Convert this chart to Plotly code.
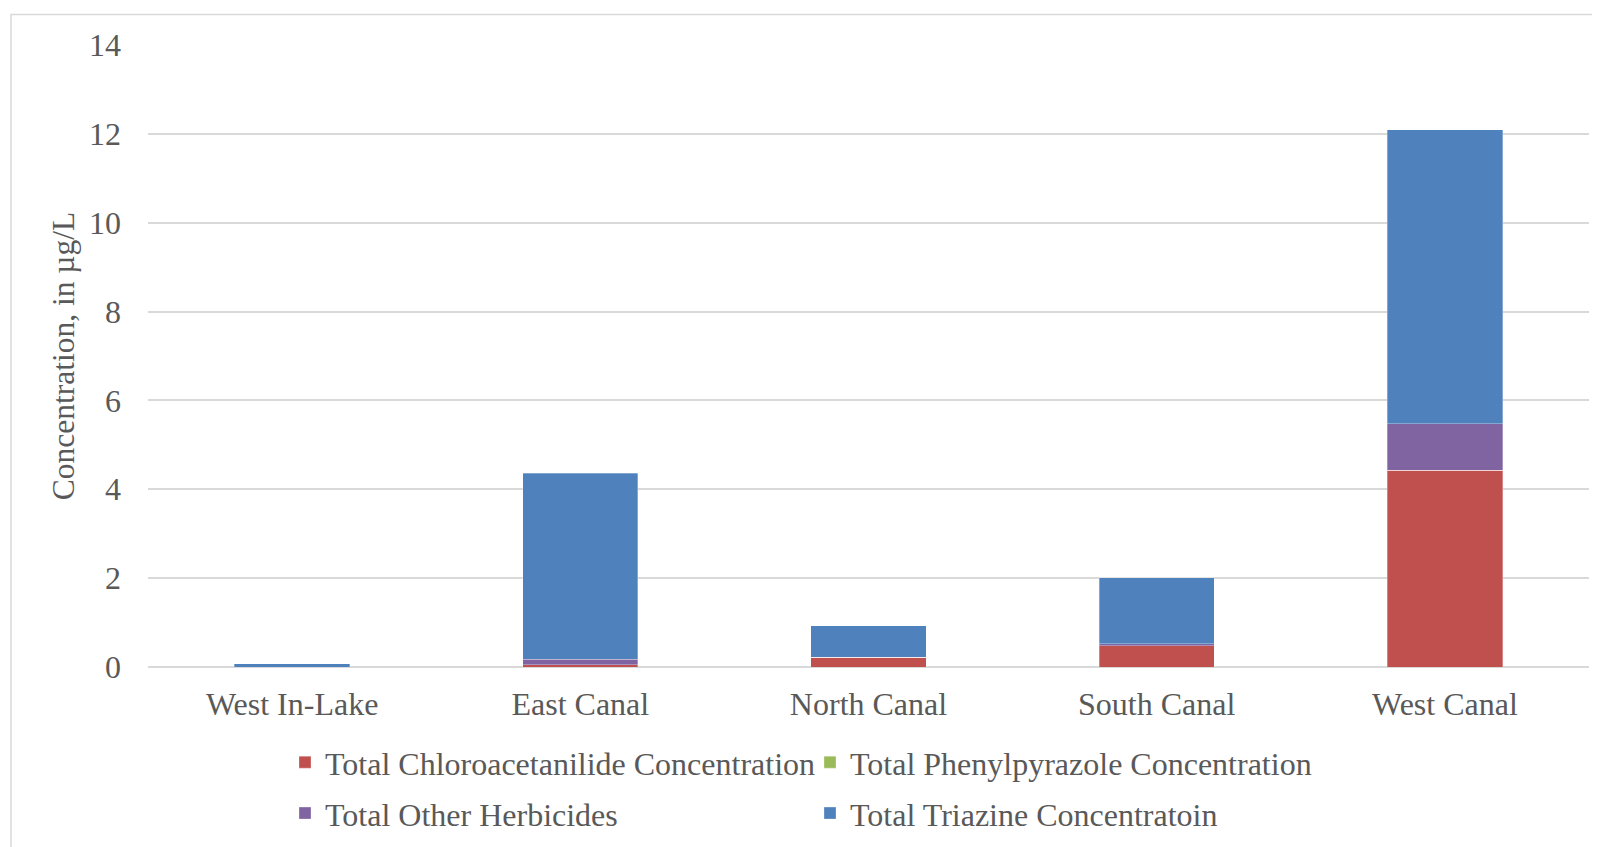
import plotly.graph_objects as go

sites = ["West In-Lake", "East Canal", "North Canal", "South Canal", "West Canal"]
chloroacetanilide = [0.0, 0.05, 0.22, 0.48, 4.43]
phenylpyrazole = [0.0, 0.0, 0.0, 0.0, 0.0]
other_herbicides = [0.0, 0.13, 0.0, 0.04, 1.04]
triazine = [0.07, 4.18, 0.71, 1.49, 6.62]
y_ticks = [0, 2, 4, 6, 8, 10, 12, 14]

names = ["Total Chloroacetanilide Concentration", "Total Phenylpyrazole Concentration",
         "Total Other Herbicides", "Total Triazine Concentratoin"]
colors = ["#C0504D", "#9BBB59", "#8064A2", "#4F81BD"]
series = [chloroacetanilide, phenylpyrazole, other_herbicides, triazine]
legends = ["legend", "legend", "legend2", "legend2"]

OFF = 8  # page body margin
W, H = 1600 - OFF, 847 - OFF
L, R, T, B = 148 - OFF, 11, 44.5 - OFF, 179.5
pw, ph = W - L - R, H - T - B

def px_x(x):
    return (x - OFF - L) / pw

def px_y(y):
    return (H - B - (y - OFF)) / ph

FONT = "Liberation Serif, Times New Roman, serif"
GREY = "#595959"

fig = go.Figure()
for n, c, s, lg in zip(names, colors, series, legends):
    fig.add_trace(go.Bar(x=sites, y=s, name=n, legend=lg,
                         marker=dict(color=c, line=dict(color="rgba(255,255,255,0.5)", width=0.6))))

leg_common = dict(orientation="h", xanchor="left", yanchor="middle",
                  entrywidth=480, entrywidthmode="pixels", font=dict(size=32, color=GREY),
                  itemclick=False, bgcolor="rgba(0,0,0,0)", traceorder="normal")

fig.update_layout(
    width=W, height=H,
    margin=dict(l=L, r=R, t=T, b=B, autoexpand=False),
    barmode="stack", bargap=0.6,
    plot_bgcolor="white", paper_bgcolor="white",
    font=dict(family=FONT, color=GREY, size=32),
    xaxis=dict(showgrid=False, ticks="", tickfont=dict(size=32, color=GREY),
               showline=False, ticklabelstandoff=15),
    yaxis=dict(range=[0, 14], tickvals=y_ticks, showgrid=True, gridcolor="#d9d9d9", gridwidth=1.5,
               zeroline=True, zerolinecolor="#d9d9d9", zerolinewidth=1.5,
               tickfont=dict(size=32, color=GREY), ticks="", ticklabelstandoff=26,
               title=dict(text="Concentration, in µg/L", font=dict(size=31.5, color=GREY), standoff=4)),
    legend=dict(x=px_x(285), y=px_y(763), **leg_common),
    legend2=dict(x=px_x(285), y=px_y(814), **leg_common),
    shapes=[dict(type="rect", xref="paper", yref="paper",
                 x0=px_x(11), x1=px_x(1700), y0=px_y(1000), y1=px_y(14),
                 line=dict(color="#d9d9d9", width=1.5), fillcolor="rgba(0,0,0,0)", layer="below")],
)

fig.write_html("out.html")
